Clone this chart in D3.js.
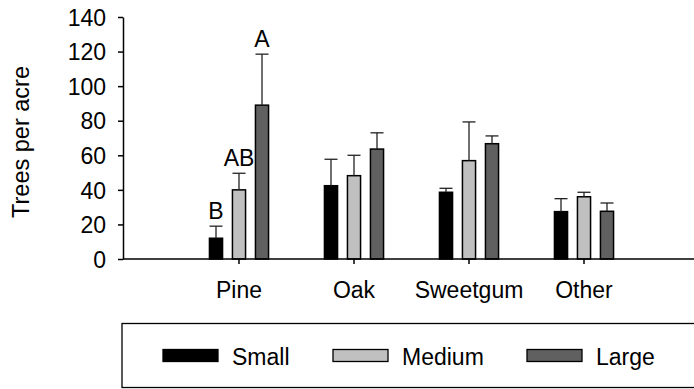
<!DOCTYPE html>
<html>
<head>
<meta charset="utf-8">
<script src="https://cdn.jsdelivr.net/npm/d3@7"></script>
<style>
  body { margin: 0; background: #fff; }
  svg text { font-family: "Liberation Sans", Arial, sans-serif; fill: #000; }
</style>
</head>
<body>
<figure id="bars" style="margin:0"></figure>
<script>
// species groups and tree size classes
const species = ["Pine", "Oak", "Sweetgum", "Other"];
const sizes = ["Small", "Medium", "Large"];

// mean trees per acre, one array per size class (order = species)
const small = [12, 42.4, 38.6, 27.4];
const medium = [40, 48.2, 56.9, 36];
const large = [89, 63.6, 66.7, 27.6];

// upper error (added on top of the mean)
const smallErr = [7, 15.3, 2.3, 7.5];
const mediumErr = [9.6, 11.8, 22.4, 2.6];
const largeErr = [29.5, 9.4, 4.5, 4.8];

// significance letters (only shown for Pine)
const pineLetters = ["B", "AB", "A"];

const yTicks = [0, 20, 40, 60, 80, 100, 120, 140];
const colors = ["#000000", "#c0c0c0", "#606060"];

const width = 694, height = 389;
const plotLeft = 123, plotTop = 17, plotBottom = 259;

const svg = d3.select("figure#bars")
  .append("svg")
  .attr("width", width)
  .attr("height", height);

const means = [small, medium, large];
const errs = [smallErr, mediumErr, largeErr];
const rows = [];
species.forEach((sp, i) => {
  sizes.forEach((sz, j) => {
    rows.push({ sp, sz, j, v: means[j][i], e: errs[j][i],
      label: sp === "Pine" ? pineLetters[j] : null });
  });
});

// y scale
const y = d3.scaleLinear().domain([0, 140]).range([plotBottom, plotTop]);

// x scales: groups, then bars inside a group
const x = d3.scaleBand().domain(species).range([181.5, 641.5]);
const xs = d3.scaleBand().domain(sizes).range([-34.5, 34.5])
  .paddingInner(0.43).paddingOuter(0.215);

// y axis
const yAxis = svg.append("g")
  .attr("transform", "translate(" + plotLeft + ",0)")
  .call(d3.axisLeft(y).tickValues(yTicks).tickSize(5).tickPadding(12).tickSizeOuter(0));
yAxis.select(".domain").attr("stroke", "#000").attr("stroke-width", 1.5);
yAxis.selectAll(".tick line").attr("stroke", "#000").attr("stroke-width", 1.5);
yAxis.selectAll(".tick text")
  .attr("font-size", 23)
  .attr("dy", "0.36em")
  .style("font-family", "'Liberation Sans', Arial, sans-serif");

// y label
svg.append("text")
  .attr("transform", "translate(29," + 142 + ")rotate(-90)")
  .attr("text-anchor", "middle")
  .attr("font-size", 23.5)
  .text("Trees per acre");

// bars
const bars = svg.append("g");
bars.selectAll("rect")
  .data(rows)
  .enter()
  .append("rect")
  .attr("x", d => x(d.sp) + x.bandwidth() / 2 + xs(d.sz))
  .attr("y", d => y(d.v))
  .attr("width", xs.bandwidth())
  .attr("height", d => y(0) - y(d.v))
  .attr("fill", d => colors[d.j])
  .attr("stroke", "#000")
  .attr("stroke-width", 1.5);

// error bars
const eb = svg.append("g").attr("stroke", "#222").attr("stroke-width", 1.3);
rows.forEach(d => {
  const cx = x(d.sp) + x.bandwidth() / 2 + xs(d.sz) + xs.bandwidth() / 2;
  eb.append("line")
    .attr("x1", cx).attr("x2", cx)
    .attr("y1", y(d.v)).attr("y2", y(d.v + d.e));
  eb.append("line")
    .attr("x1", cx - 6.5).attr("x2", cx + 6.5)
    .attr("y1", y(d.v + d.e)).attr("y2", y(d.v + d.e));
});

// letters
svg.append("g").selectAll("text")
  .data(rows.filter(d => d.label))
  .enter()
  .append("text")
  .attr("x", d => x(d.sp) + x.bandwidth() / 2 + xs(d.sz) + xs.bandwidth() / 2)
  .attr("y", d => y(d.v + d.e) - 7)
  .attr("text-anchor", "middle")
  .attr("font-size", 23)
  .text(d => d.label);

// x axis
const xAxis = svg.append("g")
  .attr("transform", "translate(0," + plotBottom + ")")
  .call(d3.axisBottom(x).tickSize(5).tickPadding(18).tickSizeOuter(0));
xAxis.select(".domain").remove();
xAxis.selectAll(".tick line").attr("stroke", "#000").attr("stroke-width", 1.5);
xAxis.selectAll(".tick text")
  .attr("font-size", 23)
  .style("font-family", "'Liberation Sans', Arial, sans-serif");
svg.append("line")
  .attr("x1", plotLeft).attr("x2", width)
  .attr("y1", plotBottom).attr("y2", plotBottom)
  .attr("stroke", "#000").attr("stroke-width", 1.5);

// legend
svg.append("rect")
  .attr("x", 122).attr("y", 323.5)
  .attr("width", width)
  .attr("height", 64)
  .attr("fill", "none")
  .attr("stroke", "#000")
  .attr("stroke-width", 1.3);

const legendX = [163, 333, 527];
const leg = svg.append("g").selectAll("g")
  .data(sizes)
  .enter()
  .append("g")
  .attr("transform", (d, i) => "translate(" + legendX[i] + ",349.5)");
leg.append("rect")
  .attr("width", 55).attr("height", 12)
  .attr("fill", (d, i) => colors[i])
  .attr("stroke", "#000")
  .attr("stroke-width", 1.3);
leg.append("text")
  .attr("x", 69).attr("y", 15)
  .attr("font-size", 23)
  .text(d => d);
</script>
</body>
</html>
